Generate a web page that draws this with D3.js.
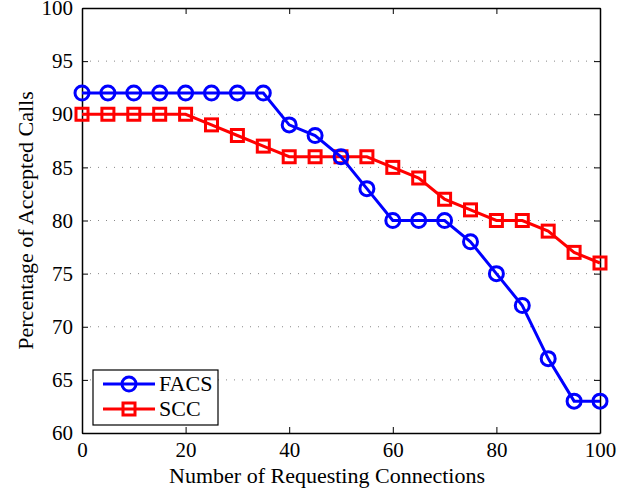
<!DOCTYPE html>
<html><head><meta charset="utf-8">
<script src="https://cdn.jsdelivr.net/npm/d3@7"></script>
<style>body{margin:0;background:#fff}svg{display:block}</style>
</head><body><svg id="c" width="629" height="490"></svg>
<script>
const xs = [0,5,10,15,20,25,30,35,40,45,50,55,60,65,70,75,80,85,90,95,100];
const facs = [92,92,92,92,92,92,92,92,89,88,86,83,80,80,80,78,75,72,67,63,63];
const scc = [90,90,90,90,90,89,88,87,86,86,86,86,85,84,82,81,80,80,79,77,76];
const xTicks = [0,20,40,60,80,100];
const yTicks = [60,65,70,75,80,85,90,95,100];
const seriesNames = ["FACS","SCC"];

const FONT = "'Liberation Serif','Times New Roman',Times,'DejaVu Serif',serif";
const svg = d3.select("#c");
const L=82, R=600, T=8, B=433;
const x = d3.scaleLinear().domain([0,100]).range([L,R]);
const y = d3.scaleLinear().domain([60,100]).range([B,T]);

svg.append("g").selectAll("line").data(yTicks.slice(1,-1)).join("line")
  .attr("x1",L).attr("x2",R).attr("y1",d=>y(d)).attr("y2",d=>y(d))
  .attr("stroke","#888").attr("stroke-width",1).attr("stroke-dasharray","1,7");

const tl = 6;
const gb = svg.append("g").attr("transform",`translate(0,${B})`)
  .call(d3.axisBottom(x).tickValues(xTicks).tickSizeInner(-tl).tickSizeOuter(0).tickPadding(9));
const gt = svg.append("g").attr("transform",`translate(0,${T})`)
  .call(d3.axisTop(x).tickValues(xTicks).tickSizeInner(-tl).tickSizeOuter(0).tickFormat(""));
const gl = svg.append("g").attr("transform",`translate(${L},0)`)
  .call(d3.axisLeft(y).tickValues(yTicks).tickSizeInner(-tl).tickSizeOuter(0).tickPadding(9));
const gr = svg.append("g").attr("transform",`translate(${R},0)`)
  .call(d3.axisRight(y).tickValues(yTicks).tickSizeInner(-tl).tickSizeOuter(0).tickFormat(""));
[gb,gt,gl,gr].forEach(g=>{
  g.attr("font-family",null).attr("font-size",null);
  g.selectAll("path.domain").attr("stroke","#000").attr("stroke-width",1.5);
  g.selectAll(".tick line").attr("stroke","#000").attr("stroke-width",1);
  g.selectAll("text").style("font-family",FONT).style("font-size","21px").attr("fill","#000");
});
gb.selectAll(".tick text").attr("dy","0.71em");

const line = d3.line().x((d,i)=>x(xs[i])).y(d=>y(d));
svg.append("path").datum(scc).attr("d",line).attr("fill","none").attr("stroke","#f00").attr("stroke-width",3);
svg.append("g").selectAll("rect").data(scc).join("rect")
  .attr("x",(d,i)=>x(xs[i])-6).attr("y",d=>y(d)-6).attr("width",12).attr("height",12)
  .attr("fill","none").attr("stroke","#f00").attr("stroke-width",3);
svg.append("path").datum(facs).attr("d",line).attr("fill","none").attr("stroke","#00f").attr("stroke-width",3);
svg.append("g").selectAll("circle").data(facs).join("circle")
  .attr("cx",(d,i)=>x(xs[i])).attr("cy",d=>y(d)).attr("r",7)
  .attr("fill","none").attr("stroke","#00f").attr("stroke-width",3);

svg.append("text").attr("x",(L+R)/2 - 14).attr("y",483).attr("text-anchor","middle")
  .style("font-family",FONT).style("font-size","22px").text("Number of Requesting Connections");
svg.append("text").attr("transform",`translate(33,${(T+B)/2}) rotate(-90)`).attr("text-anchor","middle")
  .style("font-family",FONT).style("font-size","22px").text("Percentage of Accepted Calls");

const lg = svg.append("g");
lg.append("rect").attr("x",93).attr("y",370).attr("width",125).attr("height",55)
  .attr("fill","#fff").attr("stroke","#000").attr("stroke-width",1.2);
const colors=["#00f","#f00"];
seriesNames.forEach((n,i)=>{
  const cy = 384 + i*25;
  lg.append("line").attr("x1",103).attr("x2",155).attr("y1",cy).attr("y2",cy).attr("stroke",colors[i]).attr("stroke-width",3);
  if(i===0) lg.append("circle").attr("cx",129).attr("cy",cy).attr("r",7).attr("fill","none").attr("stroke",colors[i]).attr("stroke-width",3);
  else lg.append("rect").attr("x",123).attr("y",cy-6).attr("width",12).attr("height",12).attr("fill","none").attr("stroke",colors[i]).attr("stroke-width",3);
  lg.append("text").attr("x",159).attr("y",cy+7).style("font-family",FONT).style("font-size","22px").text(n);
});
</script></body></html>
